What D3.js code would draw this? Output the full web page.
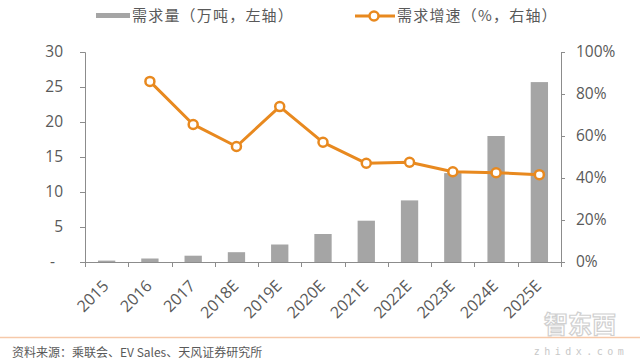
<!DOCTYPE html>
<html><head><meta charset="utf-8">
<script src="https://cdn.jsdelivr.net/npm/d3@7"></script>
<style>
html,body{margin:0;padding:0;background:#fff;}
svg{display:block;font-family:"Noto Sans CJK SC","Noto Sans",sans-serif;}
</style></head>
<body>
<svg id="chart" width="640" height="364"></svg>
<script>
const categories = ["2015","2016","2017","2018E","2019E","2020E","2021E","2022E","2023E","2024E","2025E"];
const demand = [0.2,0.5,0.9,1.4,2.5,4.0,5.9,8.8,12.7,18.0,25.7];
const growth = [null,86,65.5,55,74,57,47,47.5,43,42.5,41.6];
const leftTicks = [0,5,10,15,20,25,30];
const rightTicks = [0,20,40,60,80,100];
const legendLabels = ["需求量（万吨，左轴）","需求增速（%，右轴）"];
const sourceText = "资料来源：乘联会、EV Sales、天风证券研究所";

const svg = d3.select("#chart");
const pLeft = 85, pRight = 561, pTop = 52, pBottom = 262;
const axisColor = "#8c8c8c", textColor = "#595959";
const barColor = "#a5a5a5", lineColor = "#e8891f";

const x = d3.scaleBand().domain(categories).range([pLeft,pRight]).paddingInner(0.6).paddingOuter(0.3);
const yL = d3.scaleLinear().domain([0,30]).range([pBottom,pTop]);
const yR = d3.scaleLinear().domain([0,100]).range([pBottom,pTop]);

// bars
svg.append("g").selectAll("rect").data(categories).join("rect")
  .attr("x", d=>x(d)).attr("width", x.bandwidth())
  .attr("y", (d,i)=>yL(demand[i])).attr("height",(d,i)=>pBottom-yL(demand[i]))
  .attr("fill", barColor);

// left axis
const gL = svg.append("g").attr("transform",`translate(${pLeft},0)`)
  .call(d3.axisLeft(yL).tickValues(leftTicks).tickSize(5).tickPadding(17).tickFormat(d=>d===0?"-":d));
gL.select(".domain").attr("stroke",axisColor);
gL.selectAll(".tick line").attr("stroke",axisColor);
gL.selectAll(".tick text").attr("fill",textColor).attr("font-size",15.5).attr("font-family","'Open Sans','Noto Sans',sans-serif");
gL.selectAll(".tick text").filter(d=>d===0).attr("dx",-8);

// right axis
const gR = svg.append("g").attr("transform",`translate(${pRight},0)`)
  .call(d3.axisRight(yR).tickValues(rightTicks).tickSize(4).tickPadding(11).tickFormat(d=>d+"%"));
gR.select(".domain").attr("stroke",axisColor);
gR.selectAll(".tick line").attr("stroke",axisColor);
gR.selectAll(".tick text").attr("fill",textColor).attr("font-size",15.5).attr("font-family","'Open Sans','Noto Sans',sans-serif");

// x axis
const step = x.step();
const gX = svg.append("g");
gX.append("line").attr("x1",pLeft).attr("x2",pRight).attr("y1",pBottom+0.5).attr("y2",pBottom+0.5).attr("stroke",axisColor);
gX.selectAll("line.t").data(d3.range(categories.length+1)).join("line").attr("class","t")
  .attr("x1",i=>Math.round(pLeft+i*step)+0.5).attr("x2",i=>Math.round(pLeft+i*step)+0.5)
  .attr("y1",pBottom).attr("y2",pBottom+5).attr("stroke",axisColor);
gX.selectAll("text").data(categories).join("text")
  .attr("transform",d=>`translate(${x(d)+x.bandwidth()/2+3},${pBottom+25}) rotate(-45)`)
  .attr("text-anchor","end").attr("fill",textColor).attr("font-size",16)
  .attr("font-family","'Open Sans','Noto Sans',sans-serif").text(d=>d);

// line
const pts = categories.map((c,i)=>({c,v:growth[i]})).filter(p=>p.v!=null);
const line = d3.line().x(p=>x(p.c)+x.bandwidth()/2).y(p=>yR(p.v));
svg.append("path").datum(pts).attr("d",line).attr("fill","none").attr("stroke",lineColor).attr("stroke-width",3).attr("stroke-linejoin","round");
svg.append("g").selectAll("circle").data(pts).join("circle")
  .attr("cx",p=>x(p.c)+x.bandwidth()/2).attr("cy",p=>yR(p.v)).attr("r",4.5)
  .attr("fill","#fff").attr("stroke",lineColor).attr("stroke-width",2.5);

// legend
const lg = svg.append("g");
lg.append("rect").attr("x",96).attr("y",13).attr("width",34).attr("height",5).attr("fill",barColor);
lg.append("text").attr("x",132).attr("y",21).attr("font-size",15).attr("letter-spacing",1.2).attr("fill",textColor).text(legendLabels[0]);
lg.append("line").attr("x1",355).attr("x2",395).attr("y1",16).attr("y2",16).attr("stroke",lineColor).attr("stroke-width",3);
lg.append("circle").attr("cx",374).attr("cy",16).attr("r",4.5).attr("fill","#fff").attr("stroke",lineColor).attr("stroke-width",2.5);
lg.append("text").attr("x",397).attr("y",21).attr("font-size",15).attr("letter-spacing",1.2).attr("fill",textColor).text(legendLabels[1]);

// watermark
svg.append("text").attr("x",580).attr("y",333).attr("text-anchor","middle").attr("font-size",24)
  .attr("fill","#fff").attr("stroke","#d0d0d0").attr("stroke-width",1.2).attr("font-weight","bold").text("智东西");
svg.append("text").attr("x",581).attr("y",355).attr("text-anchor","middle").attr("font-size",10)
  .attr("letter-spacing",4.5).attr("fill","#c8c8c8").attr("font-family","'DejaVu Sans Mono',monospace").text("zhidx.com");

// footer
svg.append("line").attr("x1",0).attr("x2",640).attr("y1",337.5).attr("y2",337.5).attr("stroke","#f6c9aa").attr("stroke-width",1.5);
svg.append("text").attr("x",12).attr("y",357).attr("font-size",12).attr("fill",textColor).text(sourceText);
</script>
</body></html>
